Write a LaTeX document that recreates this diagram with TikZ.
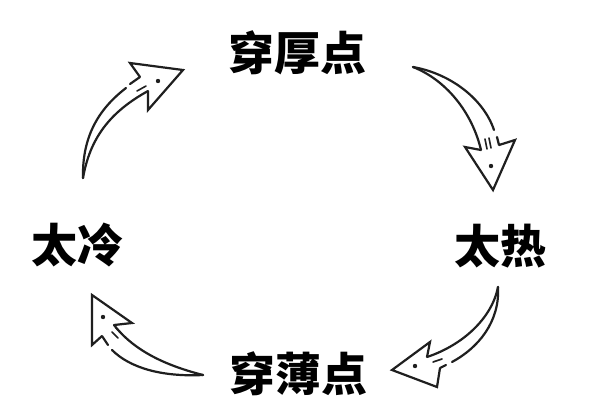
\documentclass[tikz,border=0pt]{standalone}
\usepackage{fontspec}
\newfontfamily\cjk{Noto Sans CJK SC}
\tikzset{
  lbl/.style={font=\cjk\bfseries\fontsize{46}{50}\selectfont, inner sep=0pt, text=black},
  sketch/.style={draw=black!88, line width=2.2pt, line cap=round},
  headline/.style={draw=black!88, line width=2.2pt, line join=miter},
  tick/.style={draw=black!88, line width=1.6pt, line cap=round},
  dotmark/.style={fill=black!88}
}
\begin{document}
\begin{tikzpicture}[x=1pt,y=-1pt]
\useasboundingbox[fill=white] (0,0) rectangle (600,400);
% labels
\node[lbl] (hou)  at (297,53)  {穿厚点};
\node[lbl] (re)   at (500,246) {太热};
\node[lbl] (bao)  at (298,374) {穿薄点};
\node[lbl] (leng) at (77,245)  {太冷};

% Arrow 1: top right
\coordinate (t1) at (413,67);
\draw[sketch] (t1) .. controls (452,74) and (484,100) .. (494,130);
\draw[sketch] (497,137) -- (499,145);
\draw[sketch] (t1) .. controls (446,80) and (472,112) .. (481,150);
\draw[tick] (485,139) -- (487,149) (489,138) -- (491,148);
\draw[headline] (481,150) -- (465,147) -- (493,190) -- (515,140) -- (499,145);
\fill[dotmark] (491,166) circle (2.2);

% Arrow 2: bottom right
\coordinate (t2) at (498,287);
\draw[sketch] (t2) .. controls (500,322) and (478,348) .. (452,362);
\draw[sketch] (446,365) -- (440,368);
\draw[sketch] (t2) .. controls (492,318) and (463,345) .. (427,357);
\draw[tick] (433,362) -- (442,359);
\draw[headline] (427,357) -- (430,342) -- (392,370) -- (437,387) -- (440,368);
\fill[dotmark] (415,366) circle (2.2);

% Arrow 3: bottom left
\coordinate (t3) at (203,375);
\draw[sketch] (t3) .. controls (168,366) and (135,352) .. (114,325);
\draw[sketch] (t3) .. controls (162,377) and (130,368) .. (112,350);
\draw[sketch] (108,345) -- (102,336);
\draw[tick] (112,332) -- (118,338) (116,328) -- (122,334);
\draw[headline] (114,325) -- (132,323) -- (92,295) -- (92,345) -- (102,336);
\fill[dotmark] (103,317) circle (2.2);

% Arrow 4: top left
\coordinate (t4) at (83,178);
\draw[sketch] (t4) .. controls (82,135) and (100,108) .. (126,88);
\draw[sketch] (130,84) -- (140,77);
\draw[sketch] (t4) .. controls (90,138) and (110,112) .. (148,91);
\draw[tick] (137,91) -- (146,86);
\draw[headline] (140,77) -- (130,63) -- (183,70) -- (148,110) -- (148,91);
\fill[dotmark] (158,81) circle (2.2);
\end{tikzpicture}
\end{document}
